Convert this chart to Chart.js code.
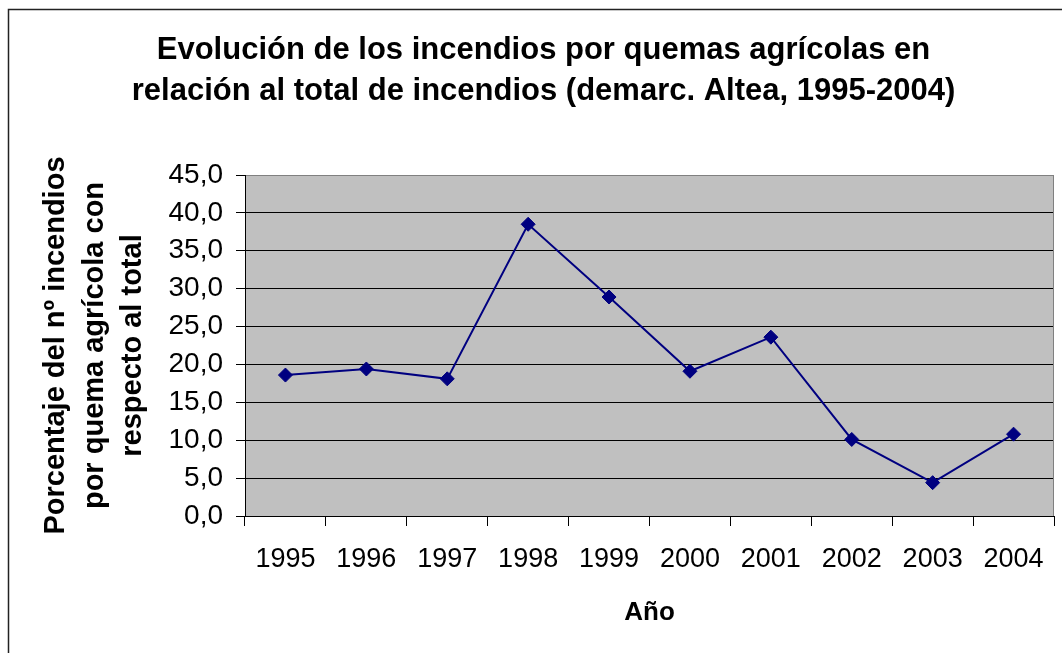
<!DOCTYPE html>
<html lang="es">
<head>
    <meta charset="UTF-8">
    <title>Incendios por quemas agrícolas - Altea</title>
    <script src="https://cdn.jsdelivr.net/npm/chart.js@4.4.1/dist/chart.umd.min.js"></script>
    <style>
        body {
            margin: 0;
            padding: 0;
            background: #ffffff;
        }
        .chart-box {
            position: relative;
            width: 1062px;
            height: 653px;
        }
    </style>
</head>
<body>
    <div class="chart-box">
        <canvas id="quemasChart"></canvas>
    </div>

    <script>
        // datos
        const years = ['1995', '1996', '1997', '1998', '1999', '2000', '2001', '2002', '2003', '2004'];
        const pctQuemas = [18.6, 19.4, 18.1, 38.5, 28.9, 19.1, 23.6, 10.1, 4.4, 10.8];
        const yMin = 0;
        const yMax = 45;
        const yStep = 5;

        const titleLines = ['Evolución de los incendios por quemas agrícolas en', 'relación al total de incendios (demarc. Altea, 1995-2004)'];
        const yTitleLines = ['Porcentaje del nº incendios', 'por quema agrícola con', 'respecto al total'];
        const xTitle = 'Año';

        Chart.defaults.font.family = "'Liberation Sans', Arial, sans-serif";
        Chart.defaults.color = '#000';

        // fondo gris del area de trazado y marco exterior
        const plotFrame = {
            id: 'plotFrame',
            beforeDraw(chart) {
                const ctx = chart.ctx;
                const a = chart.chartArea;
                ctx.save();
                ctx.fillStyle = '#fff';
                ctx.fillRect(0, 0, chart.width, chart.height);
                ctx.strokeStyle = '#222';
                ctx.lineWidth = 1.5;
                ctx.beginPath();
                ctx.moveTo(8.5, chart.height + 2);
                ctx.lineTo(8.5, 9.5);
                ctx.lineTo(chart.width + 2, 9.5);
                ctx.stroke();
                ctx.fillStyle = '#c0c0c0';
                ctx.fillRect(a.left, a.top, a.right - a.left, a.bottom - a.top);
                ctx.restore();
            },
            afterDatasetsDraw(chart) {
                const ctx = chart.ctx;
                const a = chart.chartArea;
                ctx.save();
                ctx.strokeStyle = '#808080';
                ctx.lineWidth = 1;
                ctx.beginPath();
                ctx.moveTo(Math.round(a.right) - 0.5, a.top);
                ctx.lineTo(Math.round(a.right) - 0.5, a.bottom);
                ctx.stroke();
                ctx.restore();
            }
        };

        const ctx = document.getElementById('quemasChart').getContext('2d');
        new Chart(ctx, {
            type: 'line',
            data: {
                labels: years,
                datasets: [{
                    label: 'Porcentaje',
                    data: pctQuemas,
                    borderColor: '#000080',
                    backgroundColor: '#000080',
                    borderWidth: 2,
                    tension: 0,
                    pointStyle: 'rectRot',
                    pointRadius: 7,
                    pointBackgroundColor: '#000080',
                    pointBorderColor: '#000080',
                    pointBorderWidth: 1
                }]
            },
            options: {
                responsive: true,
                maintainAspectRatio: false,
                animation: false,
                layout: {
                    padding: { left: 30, right: 5, top: 0, bottom: 0 }
                },
                plugins: {
                    legend: { display: false },
                    tooltip: { enabled: false },
                    title: {
                        display: true,
                        text: titleLines,
                        color: '#000',
                        font: { size: 31, weight: 'bold', lineHeight: '41px' },
                        padding: { top: 30, bottom: 63 }
                    }
                },
                scales: {
                    x: {
                        offset: true,
                        afterFit(scale) { scale.height = 137; },
                        grid: {
                            offset: true,
                            drawOnChartArea: false,
                            color: '#000',
                            tickLength: 10
                        },
                        border: { color: '#000', width: 1 },
                        ticks: {
                            font: { size: 27 },
                            color: '#000',
                            padding: 17,
                            maxRotation: 0,
                            autoSkip: false
                        },
                        title: {
                            display: true,
                            text: xTitle,
                            color: '#000',
                            font: { size: 26, weight: 'bold' },
                            padding: { top: 0, bottom: 25 }
                        }
                    },
                    y: {
                        min: yMin,
                        max: yMax,
                        afterFit(scale) { scale.width = 215; },
                        grid: {
                            color: (c) => (c.tick && c.tick.value === yMax ? '#808080' : '#000'),
                            tickColor: '#000',
                            lineWidth: 1,
                            tickLength: 9
                        },
                        border: { color: '#000', width: 1 },
                        ticks: {
                            stepSize: yStep,
                            font: { size: 28 },
                            color: '#000',
                            padding: 13,
                            callback: (v) => v.toFixed(1).replace('.', ',')
                        },
                        title: {
                            display: true,
                            text: yTitleLines,
                            color: '#000',
                            font: { size: 29, weight: 'bold', lineHeight: '38.5px' },
                            padding: { top: 7, bottom: 0 }
                        }
                    }
                }
            },
            plugins: [plotFrame]
        });
    </script>
</body>
</html>
